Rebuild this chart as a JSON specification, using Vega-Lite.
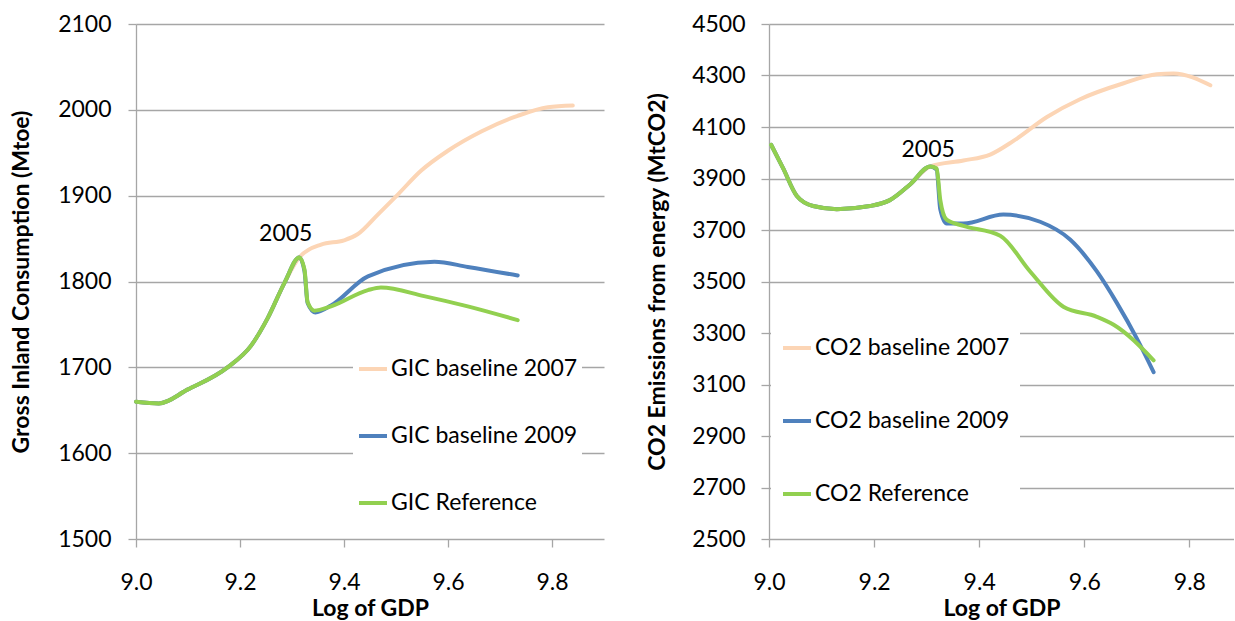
{
  "$schema": "https://vega.github.io/schema/vega-lite/v6.json",
  "padding": {"left": 10, "top": 13, "right": 0, "bottom": 0},
  "background": "white",
  "spacing": 42,
  "config": {
    "font": "Lato",
    "view": {"stroke": null},
    "axis": {
      "labelFont": "Lato", "labelFontSize": 23, "labelColor": "#000000",
      "titleFont": "Lato", "titleFontSize": 23, "titleFontWeight": "bold", "titleColor": "#000000",
      "domainColor": "#A6A6A6", "tickColor": "#A6A6A6", "gridColor": "#A6A6A6",
      "tickSize": 8, "domainWidth": 1.3, "gridWidth": 1.3, "tickWidth": 1.3, "labelFlush": false
    },
    "legend": {"labelFont": "Lato", "labelFontSize": 23, "labelColor": "#000000"}
  },
  "datasets": {
    "gic": [
      {"series": "GIC baseline 2007", "x": 9.0, "y": 1660},
      {"series": "GIC baseline 2007", "x": 9.044, "y": 1658},
      {"series": "GIC baseline 2007", "x": 9.099, "y": 1674},
      {"series": "GIC baseline 2007", "x": 9.176, "y": 1700},
      {"series": "GIC baseline 2007", "x": 9.221, "y": 1725},
      {"series": "GIC baseline 2007", "x": 9.253, "y": 1757},
      {"series": "GIC baseline 2007", "x": 9.286, "y": 1799},
      {"series": "GIC baseline 2007", "x": 9.314, "y": 1828},
      {"series": "GIC baseline 2007", "x": 9.356, "y": 1843},
      {"series": "GIC baseline 2007", "x": 9.4, "y": 1848},
      {"series": "GIC baseline 2007", "x": 9.426, "y": 1855},
      {"series": "GIC baseline 2007", "x": 9.465, "y": 1878},
      {"series": "GIC baseline 2007", "x": 9.503, "y": 1901},
      {"series": "GIC baseline 2007", "x": 9.548, "y": 1929},
      {"series": "GIC baseline 2007", "x": 9.599, "y": 1952},
      {"series": "GIC baseline 2007", "x": 9.665, "y": 1975},
      {"series": "GIC baseline 2007", "x": 9.734, "y": 1993},
      {"series": "GIC baseline 2007", "x": 9.792, "y": 2003},
      {"series": "GIC baseline 2007", "x": 9.84, "y": 2005},
      {"series": "GIC baseline 2009", "x": 9.0, "y": 1660},
      {"series": "GIC baseline 2009", "x": 9.044, "y": 1658},
      {"series": "GIC baseline 2009", "x": 9.099, "y": 1674},
      {"series": "GIC baseline 2009", "x": 9.176, "y": 1700},
      {"series": "GIC baseline 2009", "x": 9.221, "y": 1725},
      {"series": "GIC baseline 2009", "x": 9.253, "y": 1757},
      {"series": "GIC baseline 2009", "x": 9.286, "y": 1799},
      {"series": "GIC baseline 2009", "x": 9.314, "y": 1828},
      {"series": "GIC baseline 2009", "x": 9.324, "y": 1812},
      {"series": "GIC baseline 2009", "x": 9.33, "y": 1775},
      {"series": "GIC baseline 2009", "x": 9.345, "y": 1764},
      {"series": "GIC baseline 2009", "x": 9.375, "y": 1772},
      {"series": "GIC baseline 2009", "x": 9.446, "y": 1806},
      {"series": "GIC baseline 2009", "x": 9.574, "y": 1823},
      {"series": "GIC baseline 2009", "x": 9.638, "y": 1817},
      {"series": "GIC baseline 2009", "x": 9.734, "y": 1807},
      {"series": "GIC Reference", "x": 9.0, "y": 1660},
      {"series": "GIC Reference", "x": 9.044, "y": 1658},
      {"series": "GIC Reference", "x": 9.099, "y": 1674},
      {"series": "GIC Reference", "x": 9.176, "y": 1700},
      {"series": "GIC Reference", "x": 9.221, "y": 1725},
      {"series": "GIC Reference", "x": 9.253, "y": 1757},
      {"series": "GIC Reference", "x": 9.286, "y": 1799},
      {"series": "GIC Reference", "x": 9.314, "y": 1828},
      {"series": "GIC Reference", "x": 9.324, "y": 1814},
      {"series": "GIC Reference", "x": 9.33, "y": 1776},
      {"series": "GIC Reference", "x": 9.343, "y": 1766},
      {"series": "GIC Reference", "x": 9.375, "y": 1771},
      {"series": "GIC Reference", "x": 9.446, "y": 1790},
      {"series": "GIC Reference", "x": 9.471, "y": 1793},
      {"series": "GIC Reference", "x": 9.554, "y": 1783},
      {"series": "GIC Reference", "x": 9.638, "y": 1771},
      {"series": "GIC Reference", "x": 9.734, "y": 1755}
    ],
    "co2": [
      {"series": "CO2 baseline 2007", "x": 9.004, "y": 4031},
      {"series": "CO2 baseline 2007", "x": 9.027, "y": 3939},
      {"series": "CO2 baseline 2007", "x": 9.053, "y": 3832},
      {"series": "CO2 baseline 2007", "x": 9.084, "y": 3793},
      {"series": "CO2 baseline 2007", "x": 9.129, "y": 3781},
      {"series": "CO2 baseline 2007", "x": 9.192, "y": 3793},
      {"series": "CO2 baseline 2007", "x": 9.23, "y": 3816},
      {"series": "CO2 baseline 2007", "x": 9.269, "y": 3878},
      {"series": "CO2 baseline 2007", "x": 9.307, "y": 3947},
      {"series": "CO2 baseline 2007", "x": 9.37, "y": 3970},
      {"series": "CO2 baseline 2007", "x": 9.421, "y": 3993},
      {"series": "CO2 baseline 2007", "x": 9.466, "y": 4047},
      {"series": "CO2 baseline 2007", "x": 9.529, "y": 4139},
      {"series": "CO2 baseline 2007", "x": 9.592, "y": 4208},
      {"series": "CO2 baseline 2007", "x": 9.675, "y": 4270},
      {"series": "CO2 baseline 2007", "x": 9.738, "y": 4305},
      {"series": "CO2 baseline 2007", "x": 9.77, "y": 4308},
      {"series": "CO2 baseline 2007", "x": 9.84, "y": 4262},
      {"series": "CO2 baseline 2009", "x": 9.004, "y": 4031},
      {"series": "CO2 baseline 2009", "x": 9.027, "y": 3939},
      {"series": "CO2 baseline 2009", "x": 9.053, "y": 3832},
      {"series": "CO2 baseline 2009", "x": 9.084, "y": 3793},
      {"series": "CO2 baseline 2009", "x": 9.129, "y": 3781},
      {"series": "CO2 baseline 2009", "x": 9.192, "y": 3793},
      {"series": "CO2 baseline 2009", "x": 9.23, "y": 3816},
      {"series": "CO2 baseline 2009", "x": 9.269, "y": 3878},
      {"series": "CO2 baseline 2009", "x": 9.307, "y": 3947},
      {"series": "CO2 baseline 2009", "x": 9.319, "y": 3935},
      {"series": "CO2 baseline 2009", "x": 9.326, "y": 3780},
      {"series": "CO2 baseline 2009", "x": 9.338, "y": 3725},
      {"series": "CO2 baseline 2009", "x": 9.37, "y": 3725},
      {"series": "CO2 baseline 2009", "x": 9.446, "y": 3760},
      {"series": "CO2 baseline 2009", "x": 9.516, "y": 3732},
      {"series": "CO2 baseline 2009", "x": 9.573, "y": 3663},
      {"series": "CO2 baseline 2009", "x": 9.624, "y": 3539},
      {"series": "CO2 baseline 2009", "x": 9.662, "y": 3417},
      {"series": "CO2 baseline 2009", "x": 9.7, "y": 3279},
      {"series": "CO2 baseline 2009", "x": 9.732, "y": 3148},
      {"series": "CO2 Reference", "x": 9.004, "y": 4031},
      {"series": "CO2 Reference", "x": 9.027, "y": 3939},
      {"series": "CO2 Reference", "x": 9.053, "y": 3832},
      {"series": "CO2 Reference", "x": 9.084, "y": 3793},
      {"series": "CO2 Reference", "x": 9.129, "y": 3781},
      {"series": "CO2 Reference", "x": 9.192, "y": 3793},
      {"series": "CO2 Reference", "x": 9.23, "y": 3816},
      {"series": "CO2 Reference", "x": 9.269, "y": 3878},
      {"series": "CO2 Reference", "x": 9.307, "y": 3947},
      {"series": "CO2 Reference", "x": 9.319, "y": 3939},
      {"series": "CO2 Reference", "x": 9.326, "y": 3816},
      {"series": "CO2 Reference", "x": 9.338, "y": 3740},
      {"series": "CO2 Reference", "x": 9.37, "y": 3716},
      {"series": "CO2 Reference", "x": 9.44, "y": 3678},
      {"series": "CO2 Reference", "x": 9.497, "y": 3539},
      {"series": "CO2 Reference", "x": 9.561, "y": 3401},
      {"series": "CO2 Reference", "x": 9.624, "y": 3363},
      {"series": "CO2 Reference", "x": 9.656, "y": 3332},
      {"series": "CO2 Reference", "x": 9.732, "y": 3194}
    ]
  },
  "resolve": {"scale": {"color": "independent", "x": "independent", "y": "independent"}, "legend": {"color": "independent"}},
  "hconcat": [
    {
      "width": 468,
      "height": 515,
      "layer": [
        {
          "data": {"name": "gic"},
          "mark": {"type": "line", "interpolate": "monotone", "strokeWidth": 4, "strokeCap": "round"},
          "encoding": {
            "x": {"field": "x", "type": "quantitative", "scale": {"domain": [9.0, 9.9], "nice": false, "zero": false},
              "axis": {"title": "Log of GDP", "values": [9.0, 9.2, 9.4, 9.6, 9.8], "format": ".1f", "grid": false, "domain": false, "labelPadding": 24, "titlePadding": 3}},
            "y": {"field": "y", "type": "quantitative", "scale": {"domain": [1500, 2100], "nice": false, "zero": false},
              "axis": {"title": "Gross Inland Consumption (Mtoe)", "values": [1500, 1600, 1700, 1800, 1900, 2000, 2100], "format": "d", "grid": true, "labelPadding": 17, "titlePadding": 24}},
            "color": {"field": "series", "type": "nominal",
              "scale": {"domain": ["GIC baseline 2007", "GIC baseline 2009", "GIC Reference"], "range": ["#FCD5B5", "#4F81BD", "#92D050"]},
              "legend": {"title": null, "orient": "none", "legendX": 217, "legendY": 325, "fillColor": "white", "padding": 4,
                "symbolType": "stroke", "symbolSize": 784, "symbolStrokeWidth": 4, "labelOffset": 2, "rowPadding": 39, "labelLimit": 400}}
          }
        },
        {
          "data": {"values": [{"x": 9.288, "y": 1855, "label": "2005"}]},
          "mark": {"type": "text", "fontSize": 23, "font": "Lato", "color": "#000000"},
          "encoding": {
            "x": {"field": "x", "type": "quantitative"},
            "y": {"field": "y", "type": "quantitative"},
            "text": {"field": "label"}
          }
        }
      ]
    },
    {
      "width": 465,
      "height": 515,
      "layer": [
        {
          "data": {"name": "co2"},
          "mark": {"type": "line", "interpolate": "monotone", "strokeWidth": 4, "strokeCap": "round"},
          "encoding": {
            "x": {"field": "x", "type": "quantitative", "scale": {"domain": [9.0, 9.885], "nice": false, "zero": false},
              "axis": {"title": "Log of GDP", "values": [9.0, 9.2, 9.4, 9.6, 9.8], "format": ".1f", "grid": false, "domain": false, "labelPadding": 24, "titlePadding": 3}},
            "y": {"field": "y", "type": "quantitative", "scale": {"domain": [2500, 4500], "nice": false, "zero": false},
              "axis": {"title": "CO2 Emissions from energy (MtCO2)", "values": [2500, 2700, 2900, 3100, 3300, 3500, 3700, 3900, 4100, 4300, 4500], "format": "d", "grid": true, "labelPadding": 16, "titlePadding": 22}},
            "color": {"field": "series", "type": "nominal",
              "scale": {"domain": ["CO2 baseline 2007", "CO2 baseline 2009", "CO2 Reference"], "range": ["#FCD5B5", "#4F81BD", "#92D050"]},
              "legend": {"title": null, "orient": "none", "legendX": 2, "legendY": 298, "fillColor": "white", "padding": 10,
                "symbolType": "stroke", "symbolSize": 784, "symbolStrokeWidth": 4, "labelOffset": 2, "rowPadding": 45, "labelLimit": 400}}
          }
        },
        {
          "data": {"values": [{"x": 9.303, "y": 4011, "label": "2005"}]},
          "mark": {"type": "text", "fontSize": 23, "font": "Lato", "color": "#000000"},
          "encoding": {
            "x": {"field": "x", "type": "quantitative"},
            "y": {"field": "y", "type": "quantitative"},
            "text": {"field": "label"}
          }
        }
      ]
    }
  ]
}
